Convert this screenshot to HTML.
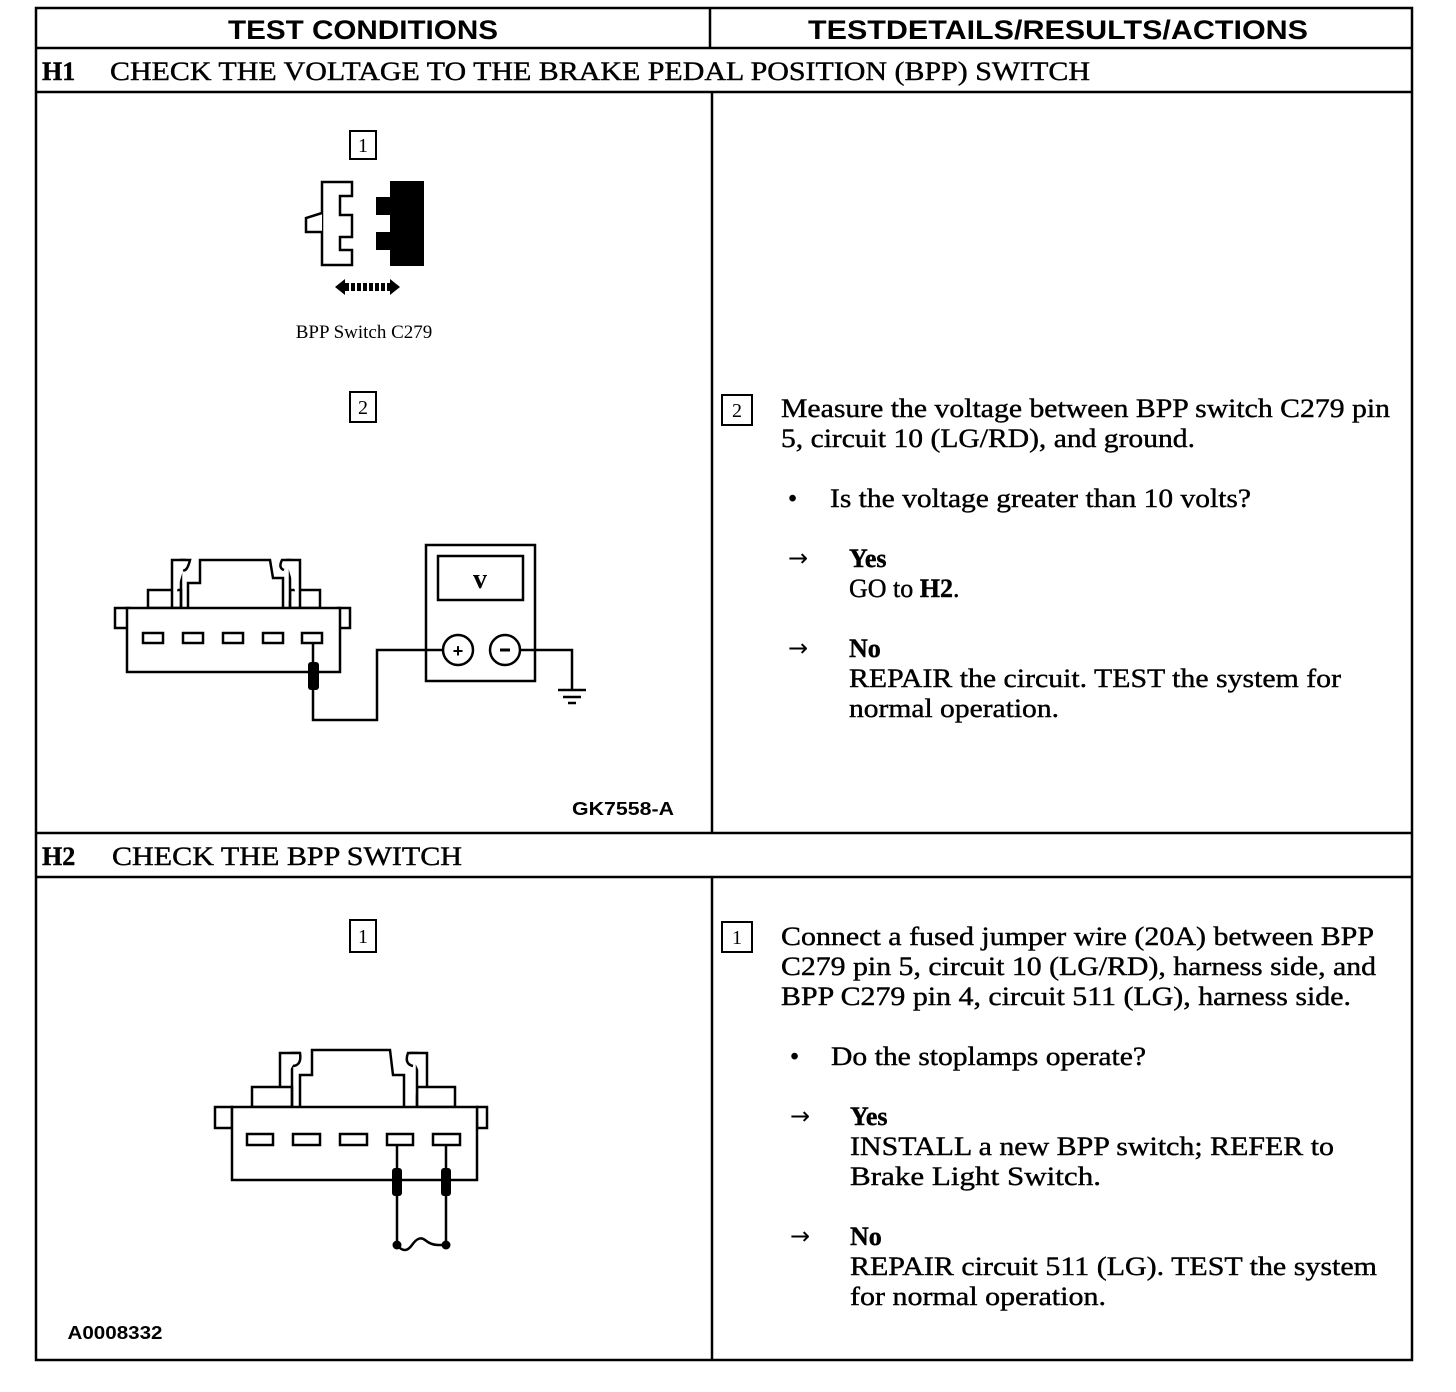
<!DOCTYPE html>
<html><head><meta charset="utf-8"><style>
html,body{margin:0;padding:0;background:#fff;}
svg{display:block;}
.s{font-family:"Liberation Serif",serif;font-size:26px;fill:#000;stroke:#000;stroke-width:0.4;}
.h{font-family:"Liberation Sans",sans-serif;font-weight:bold;font-size:27px;fill:#000;}
.a{font-family:"DejaVu Sans",sans-serif;font-size:24px;fill:#000;}
</style></head><body>
<svg width="1456" height="1392" viewBox="0 0 1456 1392" xmlns="http://www.w3.org/2000/svg">
<g stroke="#000" stroke-width="2.5" fill="none">
<rect x="36" y="8" width="1376" height="1352"/>
<line x1="36" y1="48" x2="1412" y2="48"/>
<line x1="36" y1="92" x2="1412" y2="92"/>
<line x1="36" y1="833" x2="1412" y2="833"/>
<line x1="36" y1="877" x2="1412" y2="877"/>
<line x1="710" y1="8" x2="710" y2="48"/>
<line x1="712" y1="92" x2="712" y2="833"/>
<line x1="712" y1="877" x2="712" y2="1360"/>
</g>
<text class="h" x="363" y="39" text-anchor="middle" textLength="270" lengthAdjust="spacingAndGlyphs">TEST CONDITIONS</text>
<text class="h" x="1058" y="39" text-anchor="middle" textLength="500" lengthAdjust="spacingAndGlyphs">TESTDETAILS/RESULTS/ACTIONS</text>
<text class="s" x="42" y="80"><tspan font-weight="bold">H1</tspan></text>
<text class="s" x="110" y="80" textLength="980" lengthAdjust="spacingAndGlyphs">CHECK THE VOLTAGE TO THE BRAKE PEDAL POSITION (BPP) SWITCH</text>
<text class="s" x="42" y="865"><tspan font-weight="bold">H2</tspan></text>
<text class="s" x="112" y="865" textLength="350" lengthAdjust="spacingAndGlyphs">CHECK THE BPP SWITCH</text>

<g stroke="#000" stroke-width="2" fill="#fff">
<rect x="350" y="131" width="26" height="28"/>
<rect x="350" y="392" width="26" height="30"/>
<rect x="350" y="920" width="26" height="32"/>
<rect x="722" y="395" width="30" height="30"/>
<rect x="722" y="922" width="30" height="30"/>
</g>
<g font-family="Liberation Serif,serif" font-size="20" text-anchor="middle">
<text x="363" y="152">1</text><text x="363" y="414">2</text><text x="363" y="943">1</text>
<text x="737" y="417">2</text><text x="737" y="944">1</text>
</g>
<path d="M322,182 H352 V196 H340 V215 H352 V237 H340 V250 H352 V265 H322 Z" fill="#fff" stroke="#000" stroke-width="2.5"/>
<path d="M322,213 L306,218 V232 H322" fill="#fff" stroke="#000" stroke-width="2.5"/>
<path d="M390,181 H424 V266 H390 V250 H376 V232 H390 V215 H376 V197 H390 Z" fill="#000"/>
<path d="M335,287 L345,279 V295 Z M400,287 L390,279 V295 Z" fill="#000"/>
<line x1="345" y1="287" x2="390" y2="287" stroke="#000" stroke-width="8" stroke-dasharray="4,2"/>
<text x="364" y="338" text-anchor="middle" font-family="Liberation Serif,serif" font-size="19">BPP Switch C279</text>

<g stroke="#000" stroke-width="2.5" fill="#fff">
<rect x="115" y="608" width="14" height="20"/>
<rect x="338" y="608" width="12" height="20"/>
<rect x="148" y="590" width="33" height="18"/>
<rect x="290" y="590" width="30" height="18"/>
<path d="M181,608 V560 H190 Q187,572 183,570"/>
<path d="M172,608 V560 H186"/>
<path d="M188,608 V583 H200 V560 H270 L273,578 H283 V608"/>
<path d="M290,608 V560 H282 Q278,568 284,570"/>
<path d="M300,608 V560 H286"/>
<rect x="127" y="608" width="213" height="64"/>
<rect x="143" y="633" width="20" height="10"/><rect x="183" y="633" width="20" height="10"/>
<rect x="223" y="633" width="20" height="10"/><rect x="263" y="633" width="20" height="10"/>
<rect x="302" y="633" width="20" height="10"/>
<rect x="426" y="545" width="109" height="136"/>
<rect x="438" y="556" width="85" height="44"/>
<circle cx="458" cy="650" r="15"/><circle cx="505" cy="650" r="15"/>
</g>
<g stroke="#000" stroke-width="2.5" fill="none">
<path d="M313,643 V720 H377 V650 H443"/>
<path d="M520,650 H572 V690"/>
<line x1="558" y1="690" x2="586" y2="690"/><line x1="563" y1="697" x2="581" y2="697"/><line x1="568" y1="703" x2="576" y2="703"/>
</g>
<rect x="308" y="662" width="11" height="28" rx="3" fill="#000"/>
<text x="480" y="588" text-anchor="middle" font-family="Liberation Serif,serif" font-size="28" font-weight="bold">v</text>
<text x="458" y="657" text-anchor="middle" font-family="Liberation Sans,sans-serif" font-size="18" font-weight="bold">+</text>
<line x1="500" y1="650" x2="510" y2="650" stroke="#000" stroke-width="3"/>
<text x="623" y="815" text-anchor="middle" font-family="Liberation Sans,sans-serif" font-size="18" font-weight="bold" textLength="102" lengthAdjust="spacingAndGlyphs">GK7558-A</text>

<g stroke="#000" stroke-width="2.5" fill="#fff">
<rect x="215" y="1107" width="17" height="21"/>
<rect x="477" y="1107" width="10" height="21"/>
<rect x="252" y="1087" width="40" height="20"/>
<rect x="417" y="1087" width="38" height="20"/>
<path d="M292,1107 V1053 H300 Q302,1066 292,1066"/>
<path d="M280,1087 V1053 H300"/>
<path d="M300,1107 V1075 H312 V1050 H390 L393,1075 H404 V1107"/>
<path d="M417,1107 V1053 H408 Q404,1064 413,1066"/>
<path d="M427,1087 V1053 H410"/>
<rect x="232" y="1107" width="245" height="73"/>
<rect x="247" y="1134" width="26" height="11"/><rect x="293" y="1134" width="27" height="11"/>
<rect x="340" y="1134" width="27" height="11"/><rect x="387" y="1134" width="26" height="11"/>
<rect x="433" y="1134" width="27" height="11"/>
</g>
<g stroke="#000" stroke-width="2.5" fill="none">
<path d="M397,1145 V1245"/><path d="M446,1145 V1245"/>
<path d="M397,1245 Q405,1255 412,1245 T425,1240 T438,1245 L446,1245"/>
</g>
<rect x="392" y="1168" width="10" height="28" rx="3" fill="#000"/>
<rect x="441" y="1168" width="10" height="28" rx="3" fill="#000"/>
<circle cx="397" cy="1245" r="4.5"/><circle cx="446" cy="1245" r="4.5"/>
<text x="115" y="1339" text-anchor="middle" font-family="Liberation Sans,sans-serif" font-size="18" font-weight="bold" textLength="95" lengthAdjust="spacingAndGlyphs">A0008332</text>

<text class="s" x="781" y="417" textLength="609" lengthAdjust="spacingAndGlyphs">Measure the voltage between BPP switch C279 pin</text>
<text class="s" x="781" y="447" textLength="414" lengthAdjust="spacingAndGlyphs">5, circuit 10 (LG/RD), and ground.</text>
<text class="s" x="788" y="507">•</text>
<text class="s" x="830" y="507" textLength="421" lengthAdjust="spacingAndGlyphs">Is the voltage greater than 10 volts?</text>
<text class="a" x="788" y="566">→</text>
<text class="s" x="849" y="567" font-weight="bold">Yes</text>
<text class="s" x="849" y="597">GO to <tspan font-weight="bold">H2</tspan>.</text>
<text class="a" x="788" y="656">→</text>
<text class="s" x="849" y="657" font-weight="bold">No</text>
<text class="s" x="849" y="687" textLength="492" lengthAdjust="spacingAndGlyphs">REPAIR the circuit. TEST the system for</text>
<text class="s" x="849" y="717" textLength="210" lengthAdjust="spacingAndGlyphs">normal operation.</text>

<text class="s" x="781" y="945" textLength="593" lengthAdjust="spacingAndGlyphs">Connect a fused jumper wire (20A) between BPP</text>
<text class="s" x="781" y="975" textLength="595" lengthAdjust="spacingAndGlyphs">C279 pin 5, circuit 10 (LG/RD), harness side, and</text>
<text class="s" x="781" y="1005" textLength="570" lengthAdjust="spacingAndGlyphs">BPP C279 pin 4, circuit 511 (LG), harness side.</text>
<text class="s" x="790" y="1065">•</text>
<text class="s" x="831" y="1065" textLength="315" lengthAdjust="spacingAndGlyphs">Do the stoplamps operate?</text>
<text class="a" x="790" y="1124">→</text>
<text class="s" x="850" y="1125" font-weight="bold">Yes</text>
<text class="s" x="850" y="1155" textLength="484" lengthAdjust="spacingAndGlyphs">INSTALL a new BPP switch; REFER to</text>
<text class="s" x="850" y="1185" textLength="251" lengthAdjust="spacingAndGlyphs">Brake Light Switch.</text>
<text class="a" x="790" y="1244">→</text>
<text class="s" x="850" y="1245" font-weight="bold">No</text>
<text class="s" x="850" y="1275" textLength="527" lengthAdjust="spacingAndGlyphs">REPAIR circuit 511 (LG). TEST the system</text>
<text class="s" x="850" y="1305" textLength="256" lengthAdjust="spacingAndGlyphs">for normal operation.</text>
</svg>
</body></html>
